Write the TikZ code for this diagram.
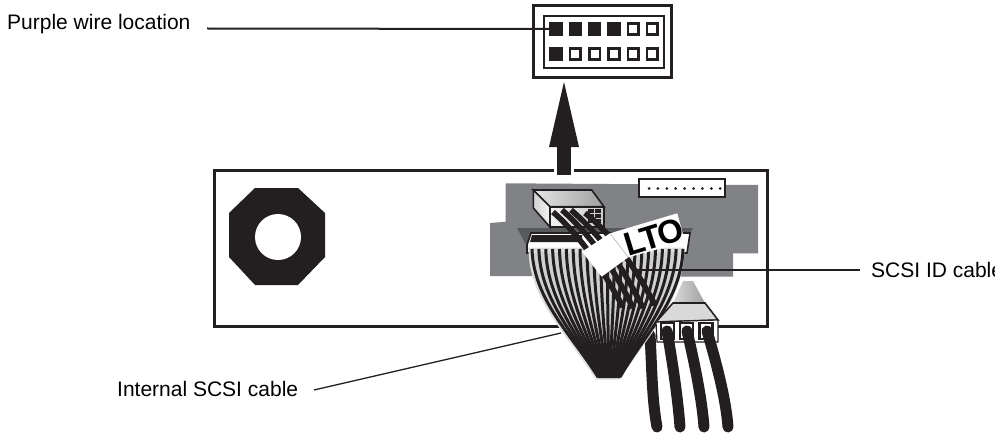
\documentclass[tikz,border=0pt]{standalone}
\usepackage{fontspec}
\setmainfont{Liberation Sans}
\usetikzlibrary{arrows.meta}
\definecolor{boardgray}{HTML}{808285}
\definecolor{darkgray}{HTML}{58595B}
\definecolor{halogray}{HTML}{DCDDDE}
\definecolor{ribbongray}{HTML}{CFD0D2}
\definecolor{inkblack}{HTML}{231F20}
\begin{document}
\begin{tikzpicture}[x=1pt, y=-1pt, >=Latex,
  lbl/.style={inner sep=0pt, font=\fontsize{21}{24}\selectfont, text=black},
  leader/.style={draw=inkblack, line width=2pt},
  thinleader/.style={draw=inkblack, line width=1.3pt},
  pinbox/.style={rectangle, draw=inkblack, line width=2.8pt, minimum size=10.5pt, inner sep=0pt, fill=white},
  pinfull/.style={pinbox, fill=inkblack},
  frame/.style={draw=inkblack, line width=3pt, fill=white},
  ribbonline/.style={draw=inkblack, line width=3pt},
  bluntwire/.style={draw=inkblack, line width=5.6pt},
  powerwire/.style={draw=inkblack, line width=11pt, line cap=round},
  bigarrow/.style={draw=inkblack, fill=inkblack, line width=14pt, -{Triangle[length=65pt, width=30pt, line width=0pt]}},
  facet/.style={draw=inkblack, line width=1.6pt}
]
\useasboundingbox (0,0) rectangle (995,433);
\clip (0,0) rectangle (995,433);
\draw[frame] (214,170) rectangle (767,326);
\fill[white] (554,165) rectangle (574,175);
\fill[boardgray] (505.7,183.3) -- (758,185) -- (758,253.3) -- (733,253.3) -- (733,276.7) -- (490,276) -- (490,223) -- (505.7,221.7) -- cycle;
\node[draw=inkblack, fill=white, line width=1.8pt, minimum width=86pt, minimum height=18pt, inner sep=0pt] (idlabel) at (682.3,188.3) {};
\foreach \dotx in {0,...,8} \fill[inkblack] (649+\dotx*8.9,188.5) circle (1.5pt);
\fill[darkgray] (517,228) -- (693,228) -- (680,252) -- (530,252) -- cycle;
\fill[inkblack] (255,188) -- (298,188) -- (325,213) -- (325,257) -- (298,285) -- (255,285) -- (229,257) -- (229,213) -- cycle;
\fill[white] (278,237) circle (23pt);
\node[draw=inkblack, fill=white, line width=3pt, minimum width=138pt, minimum height=72pt, inner sep=0pt] (header) at (602.5,41.5) {};
\node[draw=inkblack, line width=2.4pt, minimum width=120pt, minimum height=52pt, inner sep=0pt] (headerin) at (604,42) {};
\node[pinfull] (pa1) at (556,29) {};
\node[pinfull] (pa2) at (575.3,29) {};
\node[pinfull] (pa3) at (594.7,29) {};
\node[pinfull] (pa4) at (614,29) {};
\node[pinbox] (pa5) at (633.3,29) {};
\node[pinbox] (pa6) at (652.3,29) {};
\node[pinfull] (pb1) at (556,54) {};
\node[pinbox] (pb2) at (575.3,54) {};
\node[pinbox] (pb3) at (594.7,54) {};
\node[pinbox] (pb4) at (614,54) {};
\node[pinbox] (pb5) at (633.3,54) {};
\node[pinbox] (pb6) at (652.3,54) {};
\coordinate (arrowtail) at (564,175);
\draw[bigarrow] (arrowtail) -- (564,82);
\shade[left color=gray!20, right color=gray!75, facet] (533.3,190) -- (591.7,190) -- (604,206.7) -- (550,206.7) -- cycle;
\shade[left color=gray!35, right color=gray!10, facet] (533.3,190) -- (550,206.7) -- (550,227) -- (533.3,208) -- cycle;
\shade[left color=gray!10, right color=gray!40, facet] (550,206.7) -- (604,206.7) -- (604,227) -- (550,227) -- cycle;
\foreach \holex in {588,595} \foreach \holey in {209,214,219} \fill[inkblack] (\holex,\holey) rectangle +(5.8,4);
\draw[powerwire] (650,335) .. controls (652,370) and (652,400) .. (657,427);
\shade[left color=gray!30, right color=gray!75] (673,303) -- (683,281) -- (693,281) -- (705,303) -- cycle;
\fill[white, draw=inkblack, line width=1.6pt] (527,253) -- (527,245) -- (531,233) -- (690,233) -- (687,253) -- cycle;
\fill[inkblack] (532,235) -- (582,235) -- (582,242) -- (530,242) -- cycle;
\filldraw[draw=halogray, line width=5pt, fill=ribbongray, xshift=-1pt] (532,250) .. controls (533,300) and (572,335) .. (598,377) -- (620,377) .. controls (646,335) and (682,300) .. (683,250) -- cycle;
\foreach \st in {-1,-0.909,-0.818,-0.727,-0.636,-0.545,-0.455,-0.364,-0.273,-0.182,-0.091,0,0.091,0.182,0.273,0.364,0.455,0.545,0.636,0.727,0.818,0.909,1} {
  \draw[ribbonline] ({607.5+75.5*\st},249) .. controls ({607.5+74*\st},300) and ({608+36*\st},335) .. ({609+11*\st},377);
}
\fill[inkblack] (585,357) -- (633,357) -- (620,378) -- (598,378) -- cycle;
\fill[gray!30, draw=inkblack, line width=1.6pt] (673,303) -- (705,303) -- (718,320) -- (656,322) -- cycle;
\fill[white, draw=inkblack, line width=1.2pt] (656,322) -- (718,320) -- (718,342) -- (657,342) -- cycle;
\foreach \sockx in {667.5,686.5,706} \fill[white, draw=inkblack, line width=2.5pt] (\sockx-6.5,323) rectangle (\sockx+6.5,339);
\draw[powerwire] (667,331) .. controls (673,365) and (678,400) .. (680,427);
\draw[powerwire] (687,331) .. controls (695,365) and (702,400) .. (704,427);
\draw[powerwire] (707,331) .. controls (717,365) and (726,400) .. (728,427);
\draw[bluntwire] (553,212) .. controls (580,236) and (600,265) .. (623,307);
\draw[bluntwire] (562,210) .. controls (590,235) and (612,265) .. (633,308);
\draw[bluntwire] (571,210) .. controls (600,235) and (622,265) .. (643,308);
\draw[bluntwire] (585,213) .. controls (612,235) and (634,265) .. (655,305);
\fill[white] (582,251.7) -- (610,233.3) -- (677.3,213.3) -- (685,241.7) -- (628.3,257.3) -- (601.7,276.7) -- cycle;
\draw[gray!70, line width=0.5pt] (610,233.3) -- (628.3,257.3);
\node[inner sep=0pt, rotate=17, font=\fontsize{33}{33}\selectfont\bfseries\addfontfeature{LetterSpace=-5}] (ltotag) at (654,236.5) {LTO};
\node[lbl, anchor=west] (purplelbl) at (7,24) {Purple wire location};
\node[lbl, anchor=west] (scsiidlbl) at (871,270) {SCSI ID cable};
\node[lbl, anchor=west] (internallbl) at (117,389) {Internal SCSI cable};
\coordinate (purplestart) at (207,28.5);
\coordinate (scsiidstart) at (860,270);
\coordinate (scsiidend) at (635,270);
\coordinate (internalstart) at (314,390);
\coordinate (internalend) at (561,333);
\draw[leader] (purplestart) -- (pa1.west);
\draw[leader] (scsiidstart) -- (scsiidend);
\draw[thinleader] (internalstart) -- (internalend);
\end{tikzpicture}
\end{document}
